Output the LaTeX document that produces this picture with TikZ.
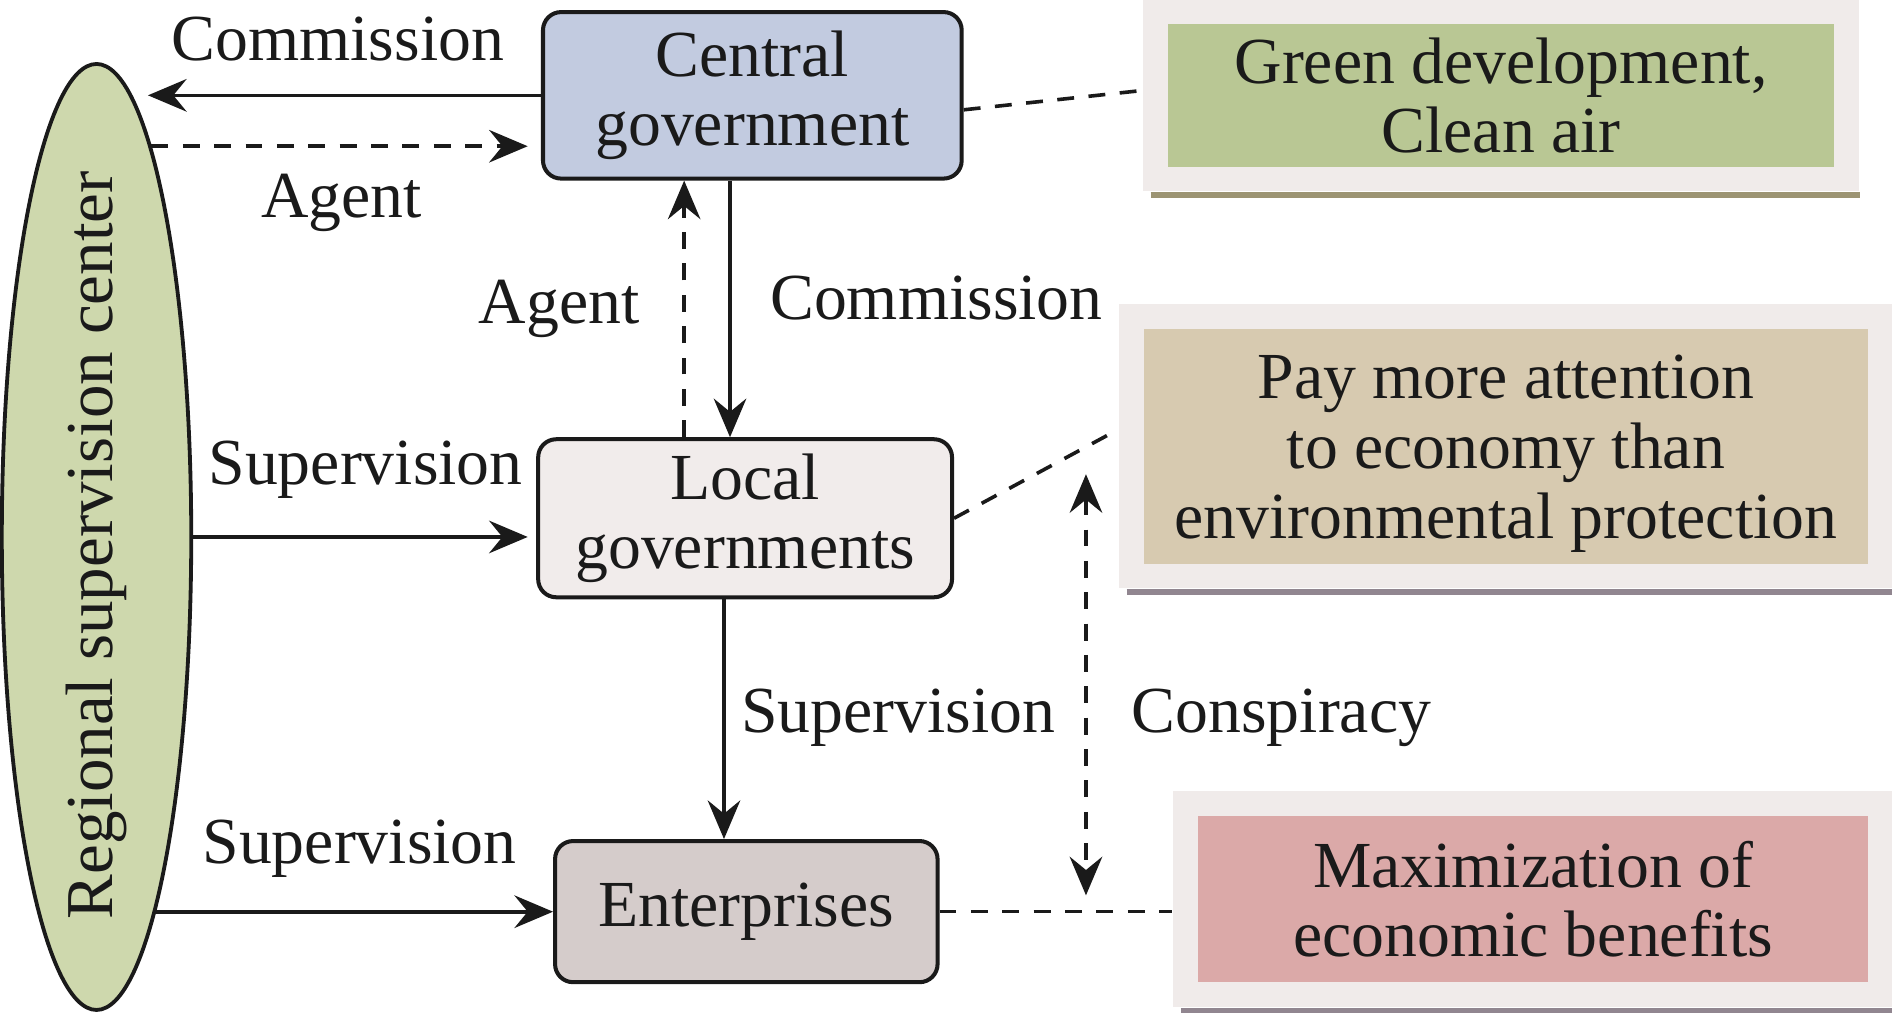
\documentclass[tikz,border=0pt]{standalone}
\usepackage{fontspec}
\setmainfont{Liberation Serif}
\usetikzlibrary{arrows.meta,shapes.geometric,positioning,fit,backgrounds}

\definecolor{inkcol}{HTML}{1A1A1A}
\definecolor{rscfill}{HTML}{CED8AD}
\definecolor{cgfill}{HTML}{C2CBE0}
\definecolor{lgfill}{HTML}{F1ECEB}
\definecolor{entfill}{HTML}{D5CCCB}
\definecolor{greenfill}{HTML}{B9C794}
\definecolor{tanfill}{HTML}{D7CAB0}
\definecolor{pinkfill}{HTML}{DBA9A8}
\definecolor{framecol}{HTML}{F0EBEA}
\definecolor{olivecol}{HTML}{9C9473}
\definecolor{mauvecol}{HTML}{918690}

\begin{document}
\begin{tikzpicture}[
    font=\fontsize{15.5}{16.4}\selectfont, text=inkcol,
    >={Stealth[length=3.2mm,width=2.7mm,inset=1.1mm]},
    box/.style={draw=inkcol, line width=0.95pt, rounded corners=1.5mm, align=center, inner sep=0pt},
    goal/.style={align=center, inner sep=0pt},
    frame/.style={fill=framecol, inner sep=2mm},
    arr/.style={draw=inkcol, line width=0.85pt, ->},
    dasharr/.style={arr, dash pattern=on 1.4mm off 1.2mm},
    link/.style={draw=inkcol, line width=0.85pt, dash pattern=on 1.4mm off 1.2mm}
  ]
  \useasboundingbox (0,0) rectangle (15.68,8.39);

  \node[ellipse, draw=inkcol, line width=0.9pt, fill=rscfill, minimum width=1.57cm, minimum height=7.84cm, inner sep=0pt] (rsc) at (0.80,3.94) {};
  \node[rotate=90, font=\fontsize{15.8}{18}\selectfont] (rsclabel) at ([yshift=-0.7mm]rsc.center) {Regional supervision center};

  \node[box, fill=cgfill, minimum width=3.47cm, minimum height=1.38cm] (cg) at (6.235,7.60) {Central\\government};
  \node[box, fill=lgfill, minimum width=3.43cm, minimum height=1.31cm] (lg) at (6.175,4.095) {Local\\governments};
  \node[box, fill=entfill, minimum width=3.17cm, minimum height=1.17cm] (ent) at (6.185,0.835) {Enterprises};

  \node[goal, fill=greenfill, minimum width=5.52cm, minimum height=1.18cm] (green) at (12.44,7.60) {Green development,\\Clean air};
  \node[goal, fill=tanfill, minimum width=6.00cm, minimum height=1.94cm] (econ) at (12.48,4.69) {};
  \node[goal] (econtext) at ([yshift=-0.6mm]econ.center) {Pay more attention\\to economy than\\environmental protection};
  \node[goal, fill=pinkfill, minimum width=5.55cm, minimum height=1.38cm] (profit) at (12.705,0.94) {Maximization of\\economic benefits};

  \begin{scope}[on background layer]
    \node[frame, fit=(green)] (greenframe) {};
    \node[frame, fit=(econ)] (econframe) {};
    \node[frame, fit=(profit)] (profitframe) {};
    \draw[line width=0.45mm, olivecol] ([xshift=0.7mm,yshift=-0.225mm]greenframe.south west) -- ([yshift=-0.225mm]greenframe.south east);
    \draw[line width=0.45mm, mauvecol] ([xshift=0.7mm,yshift=-0.225mm]econframe.south west) -- ([yshift=-0.225mm]econframe.south east);
    \draw[line width=0.45mm, mauvecol] ([xshift=0.7mm,yshift=-0.225mm]profitframe.south west) -- ([yshift=-0.225mm]profitframe.south east);
  \end{scope}

  \draw[arr, shorten >=1.1mm] (cg.west) -- (cg.west -| rsc.85);
  \draw[dasharr, shorten >=1.1mm] (rsc.82.7) -- (rsc.82.7 -| cg.west);
  \draw[arr, shorten >=0.7mm] (rsc.east) -- (rsc.east -| lg.west);
  \draw[arr] (rsc.-81.1) -- (rsc.-81.1 -| ent.west);

  \draw[arr] ([xshift=-1.85mm]cg.south) -- ([xshift=-1.85mm]cg.south |- lg.north);
  \draw[dasharr] ([xshift=-5.65mm]cg.south |- lg.north) -- ([xshift=-5.65mm]cg.south);
  \draw[arr] ([xshift=-1.75mm]lg.south) -- ([xshift=-1.75mm]lg.south |- ent.north);

  \coordinate (cspTop) at (9.00,4.46);
  \coordinate (cspBot) at (9.00,0.97);
  \draw[dasharr, <->] (cspTop) -- (cspBot);

  \draw[link] ([yshift=-1.2mm]cg.east) -- ([yshift=0.4mm]greenframe.west);
  \draw[link] (lg.east) -- ([yshift=1.4mm]econframe.west);
  \draw[link] (ent.east) -- (ent.east -| profitframe.west);

  \node (comLabelA) at (2.80,8.07) {Commission};
  \node (agtLabelA) at (2.83,6.71) {Agent};
  \node (agtLabelB) at (4.635,5.83) {Agent};
  \node (comLabelB) at (7.76,5.92) {Commission};
  \node (supLabelA) at (3.03,4.50) {Supervision};
  \node (supLabelB) at (2.98,1.36) {Supervision};
  \node (supLabelC) at (7.445,2.44) {Supervision};
  \node (cspLabel) at (10.62,2.44) {Conspiracy};
\end{tikzpicture}
\end{document}
